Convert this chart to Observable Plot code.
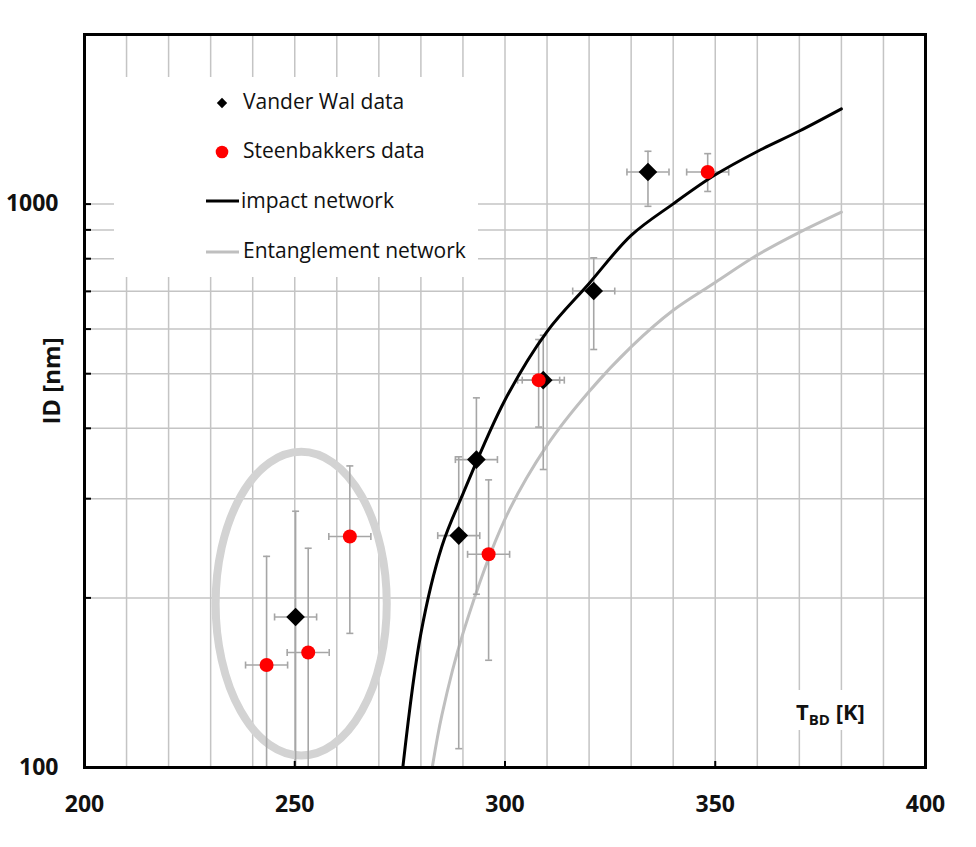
<!DOCTYPE html>
<html>
<head>
<meta charset="utf-8">
<script src="https://cdn.jsdelivr.net/npm/d3@7"></script>
<script src="https://cdn.jsdelivr.net/npm/@observablehq/plot@0.6"></script>
<style>
  body { margin: 0; background: #fff; }
  #wrap { position: relative; width: 976px; height: 847px; font-family: "Open Sans", sans-serif; }
  #wrap > svg.overlay { position: absolute; overflow: visible; }
</style>
</head>
<body>
<div id="wrap"><div id="chart"></div></div>
<script>
// ---------------- data ----------------
// Vander Wal data (black diamonds)
const vdwT     = [250.2, 289.0, 293.2, 309.1, 321.1, 334.0];
const vdwID    = [185, 258, 352, 487, 701, 1140];
const vdwIDlo  = [85, 108, 203, 338, 552, 991];
const vdwIDhi  = [285, 356, 453, 585, 803, 1241];
const vdwTerr  = [5, 5, 5, 5, 5, 5];
// Steenbakkers data (red circles)
const stbT     = [243.3, 253.2, 263.1, 296.1, 308.0, 348.2];
const stbID    = [152, 160, 257, 239, 487, 1140];
const stbIDlo  = [67, 75, 173, 155, 402, 1053];
const stbIDhi  = [237, 245, 343, 324, 575, 1229];
const stbTerr  = [5, 5, 5, 5, 5, 5];
// impact network (black line)
const impactT  = [275.7, 280, 285, 290, 300, 310, 320, 330, 340, 350, 360, 370, 380];
const impactID = [100, 173, 247, 306, 449, 594, 723, 880, 1001, 1127, 1240, 1348, 1476];
// Entanglement network (grey line)
const entT     = [282.7, 285, 290, 300, 310, 320, 330, 340, 350, 360, 370, 380];
const entID    = [100, 124, 173, 276, 373, 465, 558, 648, 726, 812, 891, 968];
// highlight ellipse extent (T range, ID range)
const ellipseT  = [231.3, 272.0];
const ellipseID = [104.8, 362.7];
// axes
const xDomain     = [200, 400];
const yDomain     = [100, 2000];
const xLabelTicks = [200, 250, 300, 350, 400];
const xInnerTicks = [250, 300, 350];
const xGridTicks  = [210, 220, 230, 240, 250, 260, 270, 280, 290, 300, 310, 320, 330, 340, 350, 360, 370, 380, 390];
const yLabelTicks = [100, 1000];
const yGridTicks  = [200, 300, 400, 500, 600, 700, 800, 900, 1000];
const yLabel = "ID [nm]";
const xLabelMain = "T", xLabelSub = "BD", xLabelUnit = " [K]";
const legendLabels = ["Vander Wal data", "Steenbakkers data", "impact network", "Entanglement network"];

// ---------------- styles ----------------
const gridGray = "#c4c4c4";
const errGray = "#a6a6a6";
const entGray = "#bfbfbf";
const capH = {draw(c) { c.moveTo(-3.5, 0); c.lineTo(3.5, 0); }};
const capV = {draw(c) { c.moveTo(0, -3.5); c.lineTo(0, 3.5); }};

function errorMarks(T, ID, lo, hi, dT) {
  const idx = d3.range(T.length);
  const s = {stroke: errGray, strokeWidth: 1.6};
  return [
    Plot.ruleX(idx, {x: i => T[i], y1: i => lo[i], y2: i => hi[i], ...s, clip: true}),
    Plot.dot(idx, {x: i => T[i], y: i => hi[i], symbol: capH, fill: "none", ...s}),
    Plot.dot(idx.filter(i => lo[i] >= yDomain[0]), {x: i => T[i], y: i => lo[i], symbol: capH, fill: "none", ...s}),
    Plot.ruleY(idx, {y: i => ID[i], x1: i => T[i] - dT[i], x2: i => T[i] + dT[i], ...s}),
    Plot.dot(idx, {x: i => T[i] - dT[i], y: i => ID[i], symbol: capV, fill: "none", ...s}),
    Plot.dot(idx, {x: i => T[i] + dT[i], y: i => ID[i], symbol: capV, fill: "none", ...s})
  ];
}

const ellipseMark = (index, {x, y}) => {
  const x0 = x(ellipseT[0]), x1 = x(ellipseT[1]);
  const y0 = y(ellipseID[0]), y1 = y(ellipseID[1]);
  return d3.create("svg:ellipse")
    .attr("cx", (x0 + x1) / 2).attr("cy", (y0 + y1) / 2)
    .attr("rx", Math.abs(x1 - x0) / 2).attr("ry", Math.abs(y1 - y0) / 2)
    .attr("fill", "none").attr("stroke", "#d3d3d3").attr("stroke-width", 8)
    .node();
};

const iV = d3.range(vdwT.length), iS = d3.range(stbT.length);
const iImp = d3.range(impactT.length), iEnt = d3.range(entT.length);

const chart = Plot.plot({
  width: 976,
  height: 847,
  marginLeft: 84,
  marginRight: 51,
  marginTop: 34,
  marginBottom: 80,
  style: {fontFamily: "'Open Sans', sans-serif", background: "#fff"},
  x: {domain: xDomain},
  y: {type: "log", domain: yDomain},
  marks: [
    Plot.ruleX(xGridTicks, {stroke: gridGray, strokeWidth: 1.5}),
    Plot.ruleY(yGridTicks, {stroke: gridGray, strokeWidth: 1.5}),
    ellipseMark,
    Plot.line(iEnt, {x: i => entT[i], y: i => entID[i], stroke: entGray, strokeWidth: 3, curve: "catmull-rom"}),
    ...errorMarks(vdwT, vdwID, vdwIDlo, vdwIDhi, vdwTerr),
    ...errorMarks(stbT, stbID, stbIDlo, stbIDhi, stbTerr),
    Plot.line(iImp, {x: i => impactT[i], y: i => impactID[i], stroke: "black", strokeWidth: 3, curve: "catmull-rom"}),
    Plot.dot(iV, {x: i => vdwT[i], y: i => vdwID[i], symbol: "diamond2", r: 8.4, fill: "black", stroke: "none"}),
    Plot.dot(iS, {x: i => stbT[i], y: i => stbID[i], r: 7, fill: "#ff0000", stroke: "none"}),
    Plot.axisY(yGridTicks, {tickSize: -7, tickFormat: () => "", stroke: "black", strokeWidth: 2, label: null}),
    Plot.axisX(xInnerTicks, {tickSize: -6, tickFormat: () => "", stroke: "black", strokeWidth: 2, label: null}),
    Plot.axisY(yLabelTicks, {tickSize: 0, tickPadding: 26, tickFormat: d => String(d), fontSize: 23, fontWeight: "bold", fill: "#111", label: null}),
    Plot.axisX(xLabelTicks, {tickSize: 0, tickPadding: 28, tickFormat: d => String(d), fontSize: 23, fontWeight: "bold", fill: "#111", label: null}),
    Plot.text([yLabel], {frameAnchor: "left", textAnchor: "middle", rotate: -90, dx: -32, dy: -20, fontSize: 24, fontWeight: "bold", fill: "#111"}),
    Plot.frame({stroke: "black", strokeWidth: 3})
  ]
});
document.getElementById("chart").appendChild(chart);

// ---------------- legend (overlay, white box) ----------------
const wrap = d3.select("#wrap");
const lg = wrap.append("svg").attr("class", "overlay")
  .style("left", "114px").style("top", "77px")
  .attr("width", 364).attr("height", 200)
  .style("font-family", "'Open Sans', sans-serif");
lg.append("rect").attr("width", 364).attr("height", 200).attr("fill", "#fff");
lg.append("path").attr("transform", "translate(108,26)")
  .attr("d", d3.symbol(d3.symbolDiamond2, 68)()).attr("fill", "black");
lg.append("circle").attr("cx", 108).attr("cy", 75).attr("r", 6.3).attr("fill", "#ff0000");
lg.append("line").attr("x1", 92).attr("x2", 125).attr("y1", 124).attr("y2", 124).attr("stroke", "black").attr("stroke-width", 3);
lg.append("line").attr("x1", 92).attr("x2", 125).attr("y1", 175).attr("y2", 175).attr("stroke", entGray).attr("stroke-width", 3);
const textY = [32, 81, 131, 181];
const textX = [129, 129, 127, 129];
legendLabels.forEach((t, k) => {
  lg.append("text").attr("x", textX[k]).attr("y", textY[k])
    .attr("font-size", 21).attr("fill", "#111").text(t);
});

// ---------------- x-axis title (overlay, white box) ----------------
const xt = wrap.append("svg").attr("class", "overlay")
  .style("left", "790px").style("top", "690px")
  .attr("width", 85).attr("height", 40)
  .style("font-family", "'Open Sans', sans-serif");
xt.append("rect").attr("width", 85).attr("height", 40).attr("fill", "#fff");
const tx = xt.append("text").attr("x", 6).attr("y", 30).attr("font-weight", "bold").attr("font-size", 22).attr("fill", "#111");
tx.append("tspan").text(xLabelMain);
tx.append("tspan").attr("font-size", 15).attr("dy", 5).text(xLabelSub);
tx.append("tspan").attr("dy", -5).text(xLabelUnit);
</script>
</body>
</html>
